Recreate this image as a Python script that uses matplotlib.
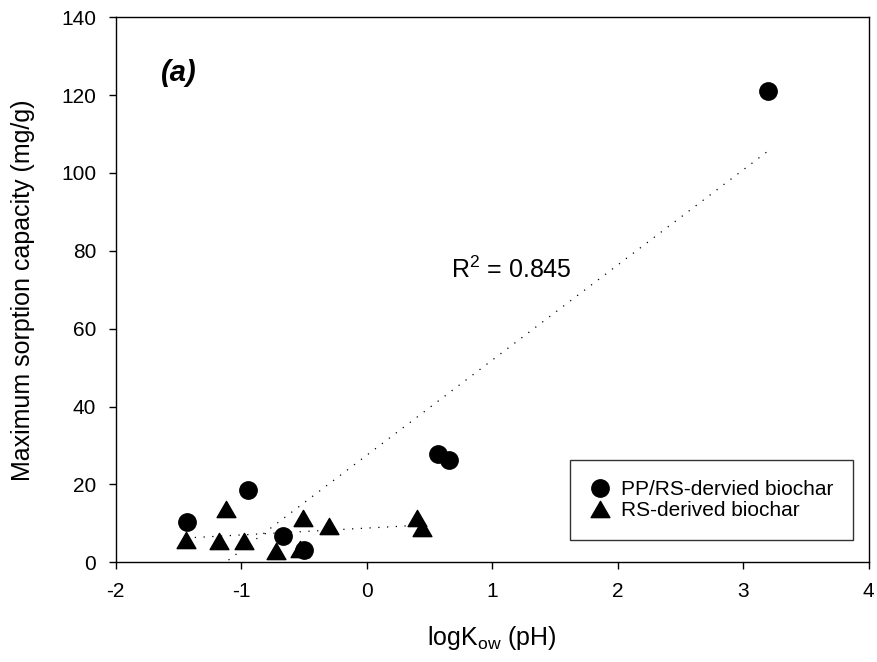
import numpy as np
import matplotlib
matplotlib.use("Agg")
import matplotlib.pyplot as plt
from matplotlib.path import Path

plt.rcParams['font.family'] = ['Liberation Sans', 'DejaVu Sans']
plt.rcParams['mathtext.fontset'] = 'custom'
plt.rcParams['mathtext.rm'] = 'Liberation Sans'
plt.rcParams['mathtext.it'] = 'Liberation Sans:italic'
plt.rcParams['axes.unicode_minus'] = False

# PP/RS-derived biochar
pp_x = [-1.435, -0.943, -0.670, -0.497, 0.570, 0.657, 3.20]
pp_y = [10.3, 18.6, 6.7, 3.2, 27.8, 26.4, 121.0]

# RS-derived biochar
rs_x = [-1.440, -1.124, -1.174, -0.975, -0.723, -0.530, -0.505, -0.301, 0.397, 0.440]
rs_y = [5.7, 13.8, 5.4, 5.5, 3.0, 3.4, 11.3, 9.2, 11.4, 8.7]

x_ticks = [-2, -1, 0, 1, 2, 3, 4]
y_ticks = [0, 20, 40, 60, 80, 100, 120, 140]

# equilateral triangle, centred on its bounding box
tri = Path([(-1, -0.866), (1, -0.866), (0, 0.866), (-1, -0.866)],
           [Path.MOVETO, Path.LINETO, Path.LINETO, Path.CLOSEPOLY])

fig = plt.figure(figsize=(8.77, 6.62), dpi=100)
ax = fig.add_axes([0.132, 0.1506, 0.8585, 0.8234])

# linear fits, drawn over the range of each series
for xs, ys in [(pp_x, pp_y), (rs_x, rs_y)]:
    k, b = np.polyfit(xs, ys, 1)
    xx = np.linspace(min(xs), max(xs), 200)
    ax.plot(xx, k * xx + b, color='black', lw=0.9, ls=(0, (1, 6)), zorder=1)

ax.plot(pp_x, pp_y, 'o', color='black', ms=12.5, ls='none',
        label='PP/RS-dervied biochar', zorder=3)
ax.plot(rs_x, rs_y, marker=tri, color='black', ms=13.5, ls='none',
        label='RS-derived biochar', zorder=2)

ax.set_xlim(-2, 4)
ax.set_ylim(0, 140)
ax.set_xticks(x_ticks)
ax.set_yticks(y_ticks)
ax.tick_params(direction='out', length=5, width=1, pad=9, labelsize=15,
               top=False, right=False)
for s in ax.spines.values():
    s.set_linewidth(1)

ax.set_xlabel('logK$_{\\mathrm{ow}}$ (pH)', fontsize=18)
ax.set_ylabel('Maximum sorption capacity (mg/g)', fontsize=18)
ax.xaxis.set_label_coords(0.5, -0.113)
ax.yaxis.set_label_coords(-0.107, 0.5)

ax.text(0.672, 75, 'R$^2$ = 0.845', fontsize=18, va='center')
ax.text(-1.5, 125.7, '(a)', fontsize=21, fontweight='bold', fontstyle='italic',
        ha='center', va='center')

leg = ax.legend(loc='lower right', bbox_to_anchor=(0.979, 0.041), borderaxespad=0,
                fontsize=15, frameon=True, fancybox=False, edgecolor='black',
                handlelength=1.0, handletextpad=0.5, borderpad=0.95,
                labelspacing=0.1)
leg.get_frame().set_linewidth(1)

fig.savefig('out.png', dpi=100)
